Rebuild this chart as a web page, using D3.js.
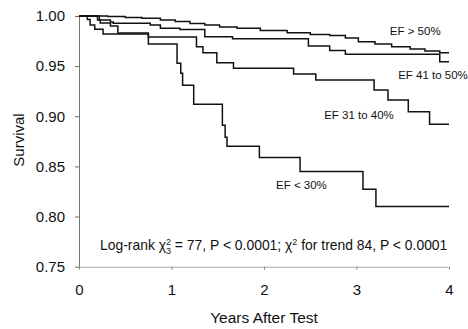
<!DOCTYPE html>
<html>
<head>
<meta charset="utf-8">
<script src="https://cdn.jsdelivr.net/npm/d3@7"></script>
<style>
  html, body { margin: 0; padding: 0; background: #fff; }
  svg { display: block; font-family: "Liberation Sans", Arial, sans-serif; }
</style>
</head>
<body>
<svg id="chart" width="468" height="329"></svg>
<script>
// ---- data (Kaplan-Meier survival) ----
const yearTicks = [0, 1, 2, 3, 4];
const survivalTicks = [0.75, 0.80, 0.85, 0.90, 0.95, 1.00];

const efAbove50 = [[0,1],[0.31,0.9995],[0.50,0.9985],[0.68,0.9977],[0.88,0.996],[1.04,0.9945],
  [1.20,0.9925],[1.36,0.991],[1.52,0.989],[1.71,0.9877],[1.96,0.9855],[2.25,0.9833],[2.50,0.9816],
  [2.71,0.9806],[2.88,0.978],[3.02,0.9744],[3.20,0.972],[3.38,0.9694],[3.58,0.967],[3.74,0.965],
  [3.90,0.9634],[4.0,0.9634]];
const ef41to50 = [[0,1],[0.22,0.996],[0.34,0.994],[0.37,0.9927],[0.77,0.991],[0.88,0.9877],
  [1.09,0.9865],[1.36,0.9794],[1.66,0.9773],[2.48,0.970],[2.71,0.9656],[2.88,0.9618],
  [3.90,0.9544],[4.0,0.9544]];
const ef31to40 = [[0,1],[0.20,0.996],[0.23,0.993],[0.34,0.990],[0.42,0.983],[0.75,0.979],
  [1.27,0.9694],[1.34,0.9634],[1.49,0.9534],[1.67,0.9479],[2.32,0.9422],[2.56,0.9362],
  [3.19,0.9262],[3.34,0.9163],[3.56,0.9046],[3.79,0.892],[4.0,0.892]];
const efBelow30 = [[0,1],[0.09,0.9965],[0.12,0.991],[0.17,0.9867],[0.26,0.982],[0.75,0.972],
  [1.06,0.953],[1.10,0.943],[1.12,0.931],[1.24,0.912],[1.55,0.891],[1.58,0.879],[1.60,0.870],
  [1.95,0.859],[2.39,0.845],[3.07,0.8272],[3.21,0.810],[4.0,0.810]];

const seriesNames = ["EF > 50%", "EF 41 to 50%", "EF 31 to 40%", "EF < 30%"];
const seriesData = [efAbove50, ef41to50, ef31to40, efBelow30];
const labelAnchor = [[3.36, 0.981], [3.45, 0.937], [2.65, 0.8968], [2.13, 0.827]];

const xTitle = "Years After Test";
const yTitle = "Survival";

// ---- layout ----
const svg = d3.select("#chart");
const x = d3.scaleLinear().domain([0, 4]).range([79, 449]);
const y = d3.scaleLinear().domain([0.75, 1.0]).range([266.7, 16]);

// y axis
const yAxis = svg.append("g")
  .attr("transform", `translate(${x(0)},0)`)
  .call(d3.axisLeft(y).tickValues(survivalTicks).tickFormat(d3.format(".2f"))
    .tickSizeInner(4).tickSizeOuter(0).tickPadding(10));
yAxis.select(".domain").attr("stroke", "#777").attr("stroke-width", 1);
yAxis.selectAll(".tick line").attr("stroke", "#666");
yAxis.selectAll("text").attr("font-size", 15).attr("fill", "#111")
  .attr("font-family", "Liberation Sans, Arial, sans-serif");

// x axis
const xAxis = svg.append("g")
  .attr("transform", `translate(0,${y(0.75)})`)
  .call(d3.axisBottom(x).tickValues(yearTicks).tickFormat(d3.format("d"))
    .tickSizeInner(3).tickSizeOuter(0).tickPadding(15));
xAxis.select(".domain").attr("stroke", "#aaa").attr("stroke-width", 1);
xAxis.selectAll(".tick line").attr("stroke", "#888");
xAxis.selectAll("text").attr("font-size", 15).attr("fill", "#111")
  .attr("font-family", "Liberation Sans, Arial, sans-serif");

// curves
const line = d3.line().x(d => x(d[0])).y(d => y(d[1])).curve(d3.curveStepAfter);
svg.append("g").selectAll("path").data(seriesData).join("path")
  .attr("d", line)
  .attr("fill", "none")
  .attr("stroke", "#111")
  .attr("stroke-width", 1.5);

// series labels
svg.append("g").selectAll("text").data(seriesNames).join("text")
  .attr("x", (d, i) => x(labelAnchor[i][0]))
  .attr("y", (d, i) => y(labelAnchor[i][1]))
  .attr("font-size", 11.5)
  .attr("fill", "#111")
  .text(d => d);

// statistics text
const stat = svg.append("text")
  .attr("x", 100).attr("y", 250)
  .attr("font-size", 13.9).attr("fill", "#111");
stat.append("tspan").text("Log-rank χ");
stat.append("tspan").attr("font-size", 9).attr("dy", -5).text("2");
stat.append("tspan").attr("font-size", 9).attr("dx", -5).attr("dy", 9).text("3");
stat.append("tspan").attr("dy", -4).text(" = 77, P < 0.0001; χ");
stat.append("tspan").attr("font-size", 9).attr("dy", -5).text("2");
stat.append("tspan").attr("dy", 5).text(" for trend 84, P < 0.0001");

// axis titles
svg.append("text")
  .attr("x", x(2)).attr("y", 323)
  .attr("text-anchor", "middle").attr("font-size", 15.5).attr("fill", "#111")
  .text(xTitle);
svg.append("text")
  .attr("transform", "translate(24,140) rotate(-90)")
  .attr("text-anchor", "middle").attr("font-size", 15).attr("fill", "#111")
  .text(yTitle);
</script>
</body>
</html>
